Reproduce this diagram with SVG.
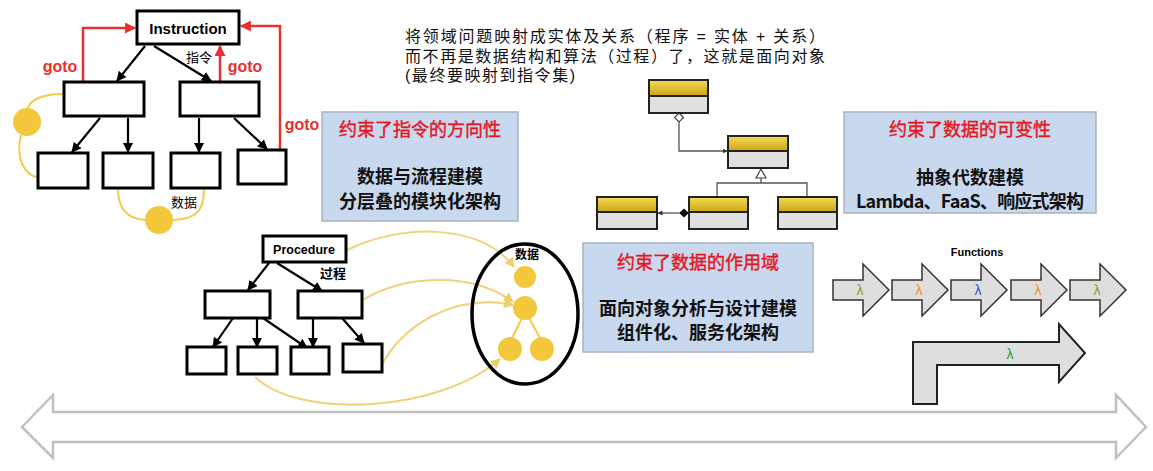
<svg xmlns="http://www.w3.org/2000/svg" width="1153" height="471" viewBox="0 0 1153 471">
<style>
text{font-family:"Liberation Sans","Noto Sans CJK SC",sans-serif}
.box{fill:#fff;stroke:#000;stroke-width:3}
.bl{stroke:#000;stroke-width:2.2;fill:none;marker-end:url(#ah)}
.red{stroke:#e8302e;stroke-width:2.5;fill:none;marker-end:url(#ahr)}
.goto{fill:#e8302e;font-weight:bold;font-size:16px;text-anchor:middle}
.yl{stroke:#f0cd4a;stroke-width:2;fill:none}
.ya{stroke:#efd27a;stroke-width:2;fill:none;marker-end:url(#ahy)}
.dot{fill:#f3c83c}
.cn{font-family:"Noto Sans CJK SC",sans-serif}
.blue{fill:#c8d8ee;stroke:#a8b2c2;stroke-width:1.5}
.ttl{fill:#e5161e;stroke:#e5161e;stroke-width:0.4;font-size:18px;text-anchor:middle;font-family:"Noto Sans CJK SC",sans-serif}
.bt{fill:#111;font-size:18px;font-weight:bold;text-anchor:middle;font-family:"Noto Sans CJK SC",sans-serif}
.ctop{fill:url(#gold);stroke:#222;stroke-width:2}
.cbot{fill:#e0e0e0;stroke:#222;stroke-width:2}
.uml{stroke:#555;stroke-width:1.3;fill:none}
.farr{fill:#dedede;stroke:#333;stroke-width:1.5}
.lam{font-size:14px;text-anchor:middle}
</style>
<defs>
<linearGradient id="gold" x1="0" y1="0" x2="0" y2="1">
<stop offset="0" stop-color="#f6dc55"/><stop offset="1" stop-color="#caa516"/>
</linearGradient>
<marker id="ah" viewBox="0 0 10 10" refX="9" refY="5" markerWidth="10" markerHeight="10" markerUnits="userSpaceOnUse" orient="auto"><path d="M0,0 L10,5 L0,10 z" fill="#000"/></marker>
<marker id="ahr" viewBox="0 0 10 10" refX="9" refY="5" markerWidth="11" markerHeight="11" markerUnits="userSpaceOnUse" orient="auto"><path d="M0,0 L10,5 L0,10 z" fill="#e8302e"/></marker>
<marker id="ahy" viewBox="0 0 10 10" refX="9" refY="5" markerWidth="10" markerHeight="10" markerUnits="userSpaceOnUse" orient="auto"><path d="M0,0 L10,5 L0,10 z" fill="#efcf6a"/></marker>
<marker id="ahs" viewBox="0 0 10 10" refX="9" refY="5" markerWidth="5" markerHeight="5" markerUnits="userSpaceOnUse" orient="auto"><path d="M0,0 L10,5 L0,10 z" fill="#333"/></marker>
</defs>

<!-- Instruction diagram -->
<g id="connectors-instruction">
<path class="bl" d="M145,46 L117,81"/>
<path class="bl" d="M154,46 L211,81"/>
<path class="bl" d="M100,118 L72,152"/>
<path class="bl" d="M128,118 L128,152"/>
<path class="bl" d="M199,118 L199,152"/>
<path class="bl" d="M234,118 L267,149"/>
<path class="red" d="M83,81 V28 H135"/>
<path class="red" d="M220,81 V46"/>
<path class="red" d="M280,149 V26 H241"/>
<path class="yl" d="M63,94 C42,94 30,100 28,108"/>
<path class="yl" d="M21,135 C15,160 25,175 39,178"/>
<path class="yl" d="M118,189 C118,212 130,219 145,220"/>
<path class="yl" d="M173,220 C195,219 204,212 204,189"/>
</g>
<g id="n-instruction"><rect class="box" x="137" y="11" width="102" height="33"/><text x="188" y="34" font-size="15" font-weight="bold" text-anchor="middle">Instruction</text></g>
<g id="n-i-mid1"><rect class="box" x="64" y="82" width="80" height="34"/></g>
<g id="n-i-mid2"><rect class="box" x="180" y="82" width="79" height="34"/></g>
<g id="n-i-b1"><rect class="box" x="38" y="153" width="50" height="35"/></g>
<g id="n-i-b2"><rect class="box" x="103" y="153" width="50" height="35"/></g>
<g id="n-i-b3"><rect class="box" x="171" y="153" width="49" height="35"/></g>
<g id="n-i-b4"><rect class="box" x="238" y="150" width="48" height="34"/></g>
<g id="n-i-labels">
<text class="goto" x="60" y="72">goto</text>
<text class="goto" x="245" y="72">goto</text>
<text class="goto" x="302" y="130">goto</text>
<text class="cn" x="199" y="62" font-size="13" text-anchor="middle">指令</text>
<text class="cn" x="184" y="207" font-size="13" text-anchor="middle">数据</text>
</g>
<g id="n-i-dot1"><circle class="dot" cx="27" cy="122" r="14"/></g>
<g id="n-i-dot2"><circle class="dot" cx="159" cy="220" r="14"/></g>

<!-- Procedure diagram -->
<g id="connectors-procedure">
<path class="bl" d="M269,263 L248,290"/>
<path class="bl" d="M277,263 L322,291"/>
<path class="bl" d="M233,318 L213,347"/>
<path class="bl" d="M257,318 L257,347"/>
<path class="bl" d="M263,318 L307,348"/>
<path class="bl" d="M313,318 L313,347"/>
<path class="bl" d="M342,318 L364,343"/>
<path class="ya" d="M347,250 C400,224 480,222 514,267"/>
<path class="ya" d="M363,300 C400,276 470,270 513,302"/>
<path class="ya" d="M383,363 C400,330 450,292 513,305"/>
<path class="ya" d="M255,377 C300,420 440,412 500,359"/>
<path class="yl" d="M522,318 L512,338 M529,318 L540,338"/>
</g>
<g id="n-procedure"><rect class="box" x="263" y="236" width="83" height="26"/><text x="304" y="254" font-size="12.5" font-weight="bold" text-anchor="middle">Procedure</text>
<text class="cn" x="333" y="278" font-size="13" font-weight="bold" text-anchor="middle">过程</text></g>
<g id="n-p-mid1"><rect class="box" x="205" y="291" width="65" height="27"/></g>
<g id="n-p-mid2"><rect class="box" x="298" y="291" width="64" height="27"/></g>
<g id="n-p-b1"><rect class="box" x="187" y="347" width="39" height="27"/></g>
<g id="n-p-b2"><rect class="box" x="238" y="347" width="39" height="27"/></g>
<g id="n-p-b3"><rect class="box" x="291" y="347" width="38" height="27"/></g>
<g id="n-p-b4"><rect class="box" x="343" y="344" width="39" height="28"/></g>
<g id="n-data">
<ellipse cx="525" cy="314" rx="53" ry="70" fill="none" stroke="#000" stroke-width="3.5"/>
<text class="cn" x="527" y="259" font-size="12" font-weight="bold" text-anchor="middle">数据</text>
<circle class="dot" cx="525" cy="277" r="11"/>
<circle class="dot" cx="525" cy="308" r="12"/>
<circle class="dot" cx="510" cy="349" r="12"/>
<circle class="dot" cx="542" cy="349" r="12"/>
</g>

<!-- Top text -->
<g id="n-toptext" class="cn" font-size="16" fill="#111">
<text x="405" y="42" textLength="420" lengthAdjust="spacing">将领域问题映射成实体及关系（程序 = 实体 + 关系）</text>
<text x="405" y="62" textLength="420" lengthAdjust="spacing">而不再是数据结构和算法（过程）了，这就是面向对象</text>
<text x="405" y="81" textLength="170" lengthAdjust="spacing">(最终要映射到指令集)</text>
</g>

<!-- Blue boxes -->
<g id="n-box1"><rect class="blue" x="322" y="112" width="196" height="109"/>
<text class="ttl" x="420" y="136">约束了指令的方向性</text>
<text class="bt" x="420" y="183">数据与流程建模</text>
<text class="bt" x="420" y="208">分层叠的模块化架构</text></g>
<g id="n-box2"><rect class="blue" x="583" y="243" width="230" height="109"/>
<text class="ttl" x="698" y="269">约束了数据的作用域</text>
<text class="bt" x="698" y="315">面向对象分析与设计建模</text>
<text class="bt" x="698" y="339">组件化、服务化架构</text></g>
<g id="n-box3"><rect class="blue" x="844" y="112" width="252" height="101"/>
<text class="ttl" x="970" y="136">约束了数据的可变性</text>
<text class="bt" x="970" y="184">抽象代数建模</text>
<text class="bt" x="970" y="208" font-size="16" textLength="228" lengthAdjust="spacing">Lambda、FaaS、响应式架构</text></g>

<!-- UML -->
<g id="connectors-uml">
<polygon points="679,113 683.5,117.5 679,122 674.5,117.5" fill="#fff" stroke="#444" stroke-width="1.2"/>
<path class="uml" d="M679,122 V151 H727" marker-end="url(#ahs)"/>
<polygon points="761,169 766,178 756,178" fill="#fff" stroke="#444" stroke-width="1.2"/>
<path class="uml" d="M761,178 V183 M717,197 V183 H807 V197"/>
<polygon points="689,213 684,208.5 679,213 684,217.5" fill="#111"/>
<path class="uml" d="M679,213 H658" marker-end="url(#ahs)"/>
</g>
<g id="n-classA"><rect class="ctop" x="649" y="80" width="59" height="16"/><rect class="cbot" x="649" y="96" width="59" height="17"/></g>
<g id="n-classB"><rect class="ctop" x="728" y="136" width="60" height="15"/><rect class="cbot" x="728" y="151" width="60" height="17"/></g>
<g id="n-classC"><rect class="ctop" x="597" y="197" width="60" height="15"/><rect class="cbot" x="597" y="212" width="60" height="17"/></g>
<g id="n-classD"><rect class="ctop" x="689" y="197" width="59" height="15"/><rect class="cbot" x="689" y="212" width="59" height="17"/></g>
<g id="n-classE"><rect class="ctop" x="778" y="197" width="59" height="15"/><rect class="cbot" x="778" y="212" width="59" height="17"/></g>

<!-- Functions -->
<g id="n-functions">
<text x="977" y="256" font-size="11" font-weight="bold" text-anchor="middle">Functions</text>
<path class="farr" d="M833,280 H863 V264 L889,290 L863,316 V300 H833 Z"/>
<path class="farr" d="M892,280 H922 V264 L948,290 L922,316 V300 H892 Z"/>
<path class="farr" d="M951,280 H981 V264 L1007,290 L981,316 V300 H951 Z"/>
<path class="farr" d="M1011,280 H1041 V264 L1067,290 L1041,316 V300 H1011 Z"/>
<path class="farr" d="M1070,280 H1100 V264 L1126,290 L1100,316 V300 H1070 Z"/>
<text class="lam" x="860" y="295" fill="#8f9b2e">λ</text>
<text class="lam" x="919" y="295" fill="#f0922e">λ</text>
<text class="lam" x="978" y="295" fill="#3456d0">λ</text>
<text class="lam" x="1038" y="295" fill="#f0922e">λ</text>
<text class="lam" x="1097" y="295" fill="#8f9b2e">λ</text>
</g>
<g id="n-bigarrow">
<path d="M913,404 V342 H1059 V324 L1085,353 L1059,382 V365 H937 V404 Z" fill="#dedede" stroke="#222" stroke-width="2"/>
<text class="lam" x="1010" y="359" fill="#2e9a3a">λ</text>
</g>

<!-- Double arrow -->
<g id="n-doublearrow">
<polygon points="22,427 53,395 53,412 1116,412 1116,395 1146,427 1116,458 1116,442 53,442 53,458" fill="#fff" stroke="#c0c0c0" stroke-width="2.5" stroke-linejoin="miter"/>
</g>
</svg>
